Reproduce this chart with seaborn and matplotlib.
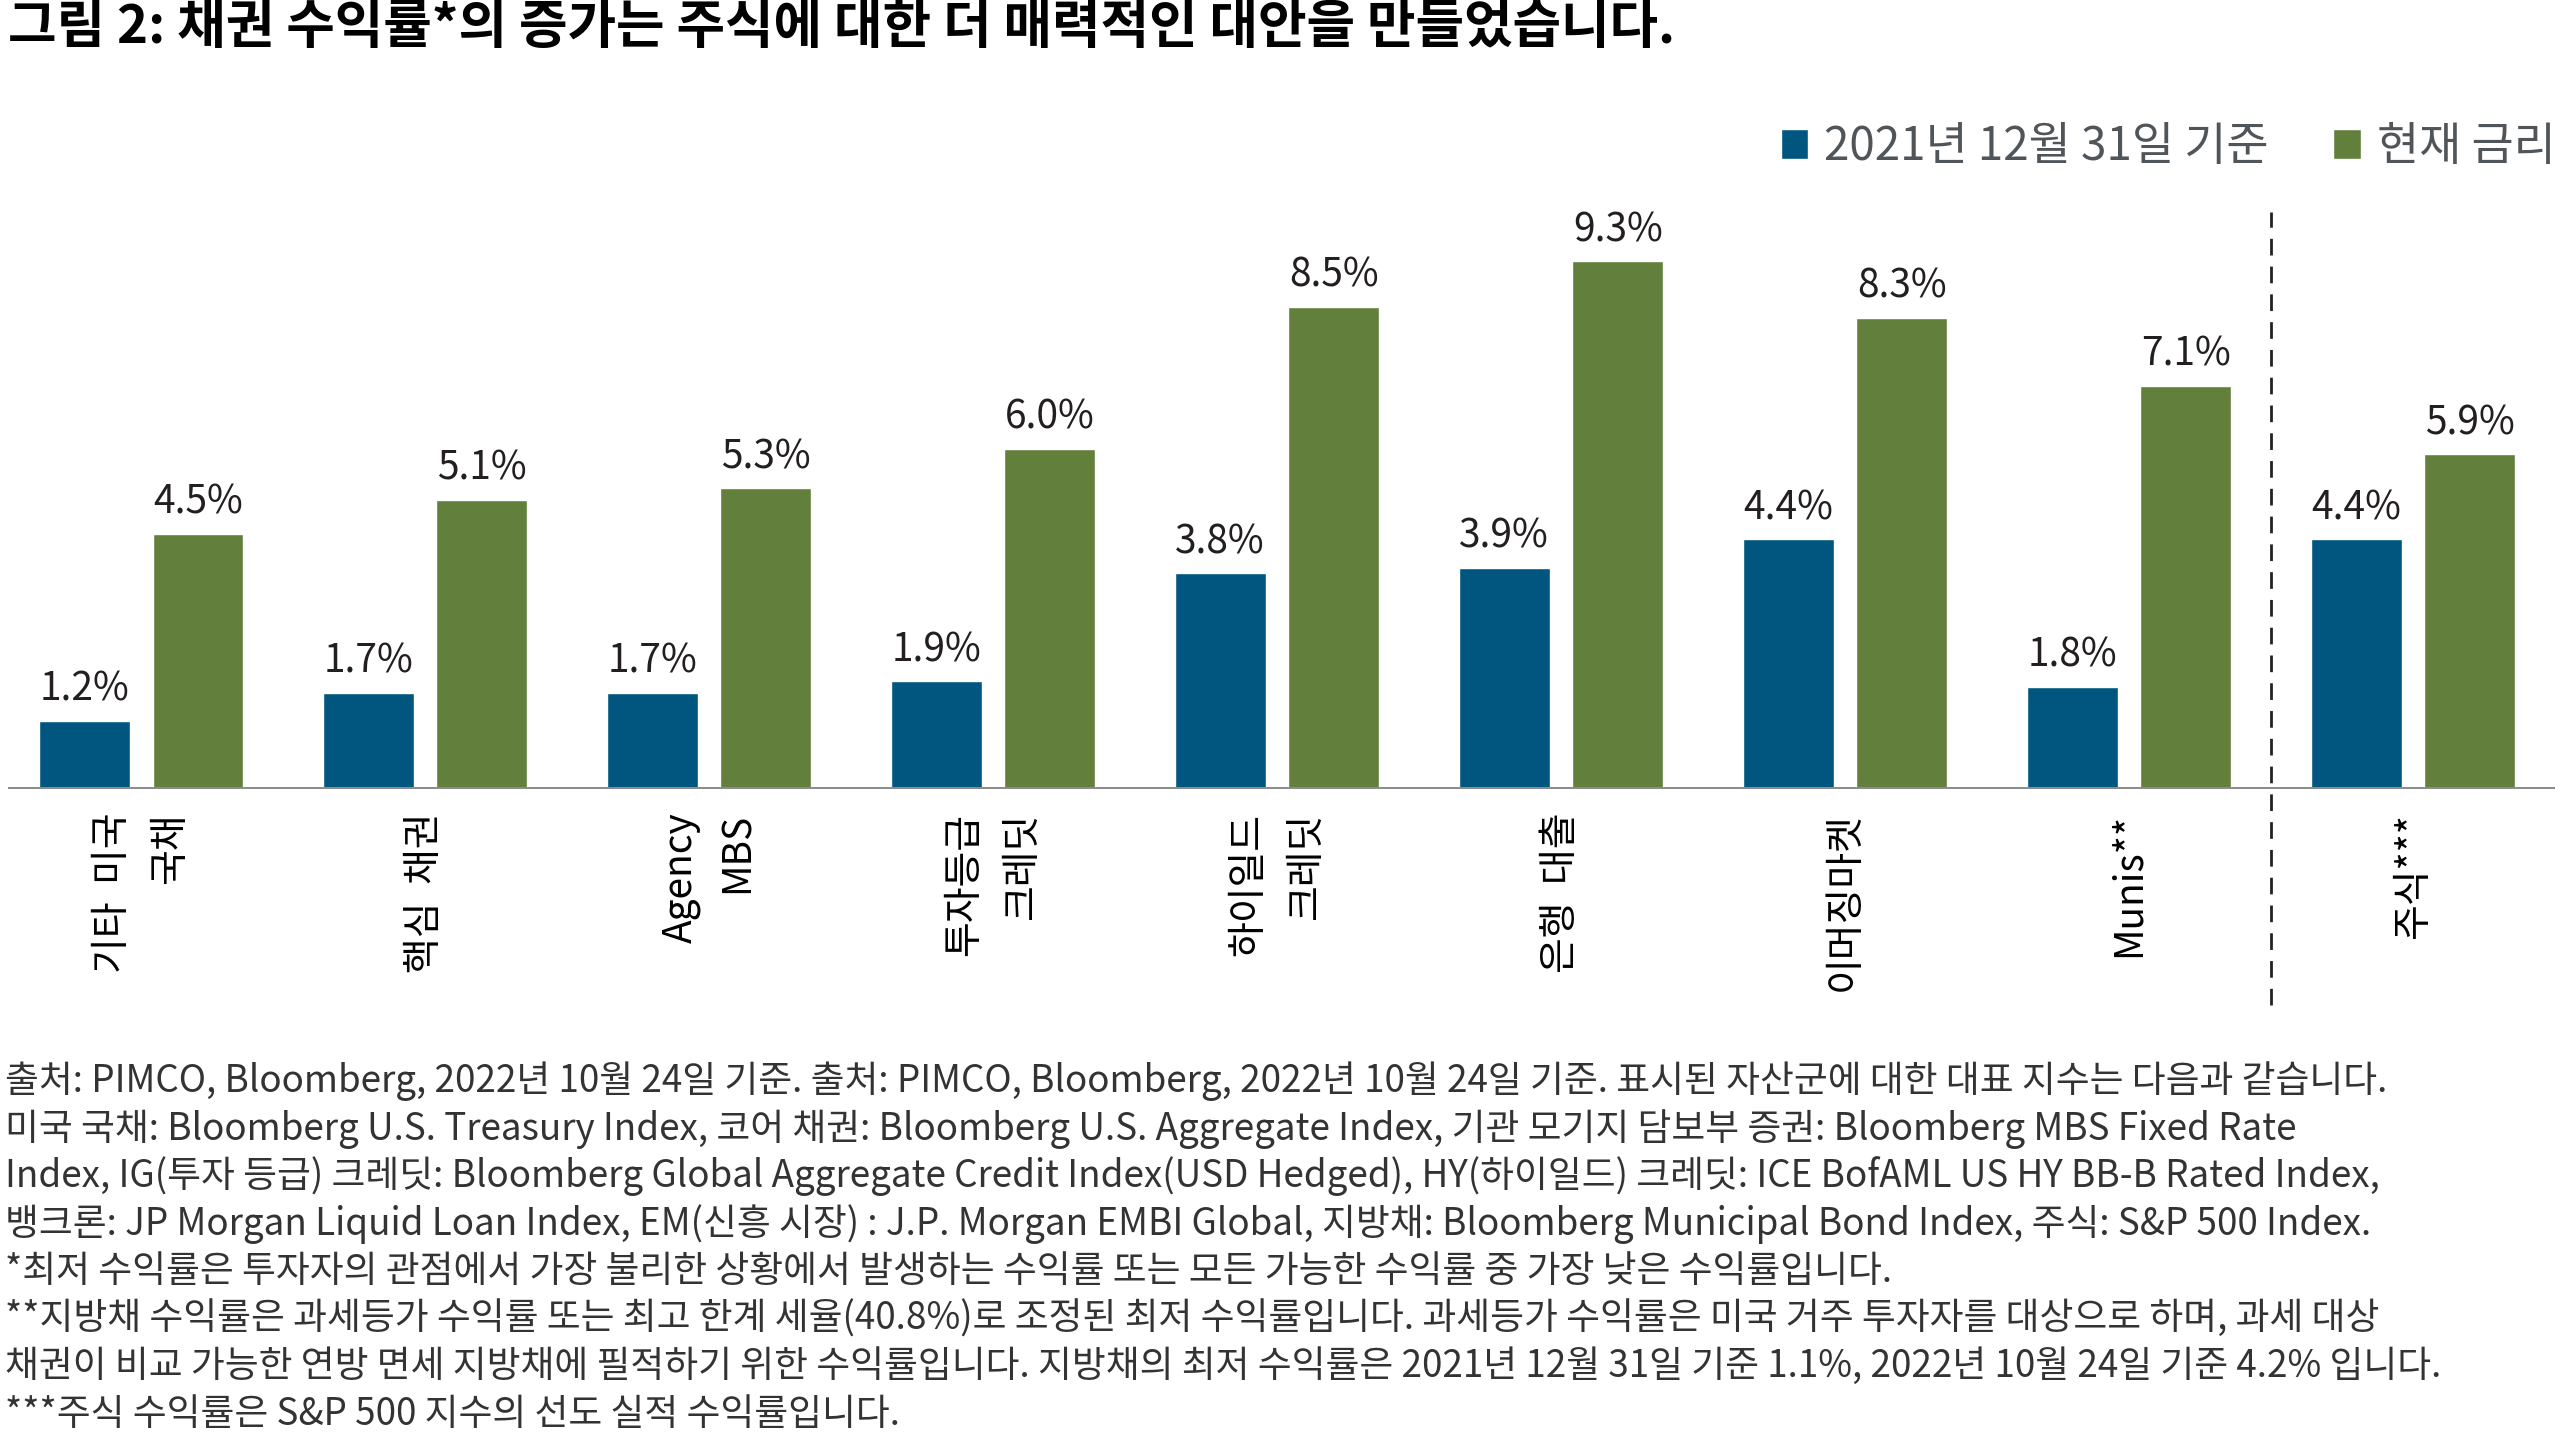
import pandas as pd
import seaborn as sns
import matplotlib.pyplot as plt

# Yield comparison: 2021-12-31 vs current, by asset class

categories = ['기타  미국\n국채', '핵심  채권', 'Agency\nMBS', '투자등급\n크레딧',
              '하이일드\n크레딧', '은행  대출', '이머징마켓', 'Munis**', '주식***']
yield_2021 = [1.2, 1.7, 1.7, 1.9, 3.8, 3.9, 4.4, 1.8, 4.4]
yield_now = [4.5, 5.1, 5.3, 6.0, 8.5, 9.3, 8.3, 7.1, 5.9]
series_names = ['2021년 12월 31일 기준', '현재 금리']

title = '그림 2: 채권 수익률*의 증가는 주식에 대한 더 매력적인 대안을 만들었습니다.'
notes = [
    '출처: PIMCO, Bloomberg, 2022년 10월 24일 기준. 출처: PIMCO, Bloomberg, 2022년 10월 24일 기준. 표시된 자산군에 대한 대표 지수는 다음과 같습니다.',
    '미국 국채: Bloomberg U.S. Treasury Index, 코어 채권: Bloomberg U.S. Aggregate Index, 기관 모기지 담보부 증권: Bloomberg MBS Fixed Rate',
    'Index, IG(투자 등급) 크레딧: Bloomberg Global Aggregate Credit Index(USD Hedged), HY(하이일드) 크레딧: ICE BofAML US HY BB-B Rated Index,',
    '뱅크론: JP Morgan Liquid Loan Index, EM(신흥 시장) : J.P. Morgan EMBI Global, 지방채: Bloomberg Municipal Bond Index, 주식: S&P 500 Index.',
    '*최저 수익률은 투자자의 관점에서 가장 불리한 상황에서 발생하는 수익률 또는 모든 가능한 수익률 중 가장 낮은 수익률입니다.',
    '**지방채 수익률은 과세등가 수익률 또는 최고 한계 세율(40.8%)로 조정된 최저 수익률입니다. 과세등가 수익률은 미국 거주 투자자를 대상으로 하며, 과세 대상',
    '채권이 비교 가능한 연방 면세 지방채에 필적하기 위한 수익률입니다. 지방채의 최저 수익률은 2021년 12월 31일 기준 1.1%, 2022년 10월 24일 기준 4.2% 입니다.',
    '***주식 수익률은 S&P 500 지수의 선도 실적 수익률입니다.',
]

BLUE = '#00567f'
GREEN = '#62803b'


def main():
    sns.set_theme(style='white')
    plt.rcParams['font.family'] = ['Noto Sans CJK KR', 'DejaVu Sans']

    df = pd.DataFrame({
        'category': categories * 2,
        'series': [series_names[0]] * len(categories) + [series_names[1]] * len(categories),
        'value': yield_2021 + yield_now,
    })

    fig, ax = plt.subplots(figsize=(25.6, 14.4), dpi=100)
    ax.set_position([0.003, 0.452, 0.995, 0.41])

    sns.barplot(data=df, x='category', y='value', hue='series',
                palette=[BLUE, GREEN], width=0.8, gap=0.2, saturation=1,
                errorbar=None, ax=ax)

    for c in ax.containers:
        ax.bar_label(c, fmt='{:.1f}%', padding=8, fontsize=28, color='#231f20')

    ax.set_xlim(-0.47, len(categories) - 0.5)
    ax.set_ylim(0, 10.4)
    sns.despine(ax=ax, left=True, bottom=True)
    ax.set_yticks([])
    ax.set_xlabel('')
    ax.set_ylabel('')
    ax.axhline(0, color='#8c8c8c', lw=3.6, zorder=3)

    # separator between bonds and equities
    sep_x = len(categories) - 1.5
    ax.plot([sep_x, sep_x], [-3.8, 10.16], color='#222222', lw=2,
            ls=(0, (6, 4)), clip_on=False)

    ax.tick_params(axis='x', length=0, pad=17, labelsize=28, labelcolor='black')
    for lbl in ax.get_xticklabels():
        lbl.set_rotation(90)
        lbl.set_va('top')
        lbl.set_ha('center')
        lbl.set_multialignment('right')
        lbl.set_linespacing(1.55)

    sns.move_legend(ax, 'center right', bbox_to_anchor=(1.0, 0.898),
                    bbox_transform=fig.transFigure, ncol=2, frameon=False,
                    title=None, fontsize=33, labelcolor='#50555a',
                    handlelength=0.6, handleheight=0.6, handletextpad=0.35,
                    columnspacing=1.4, borderaxespad=0, borderpad=0.1)

    fig.text(0.003, 1 - 28 / 1440, title, fontsize=38, fontweight='bold',
             va='center', ha='left', color='black')

    for i, line in enumerate(notes):
        y = 1 - (1081 + i * 47.6) / 1440
        fig.text(0.002, y, line, fontsize=26.5, va='center', ha='left',
                 color='#333333')

    fig.savefig('out.png', dpi=100)


if __name__ == '__main__':
    main()
